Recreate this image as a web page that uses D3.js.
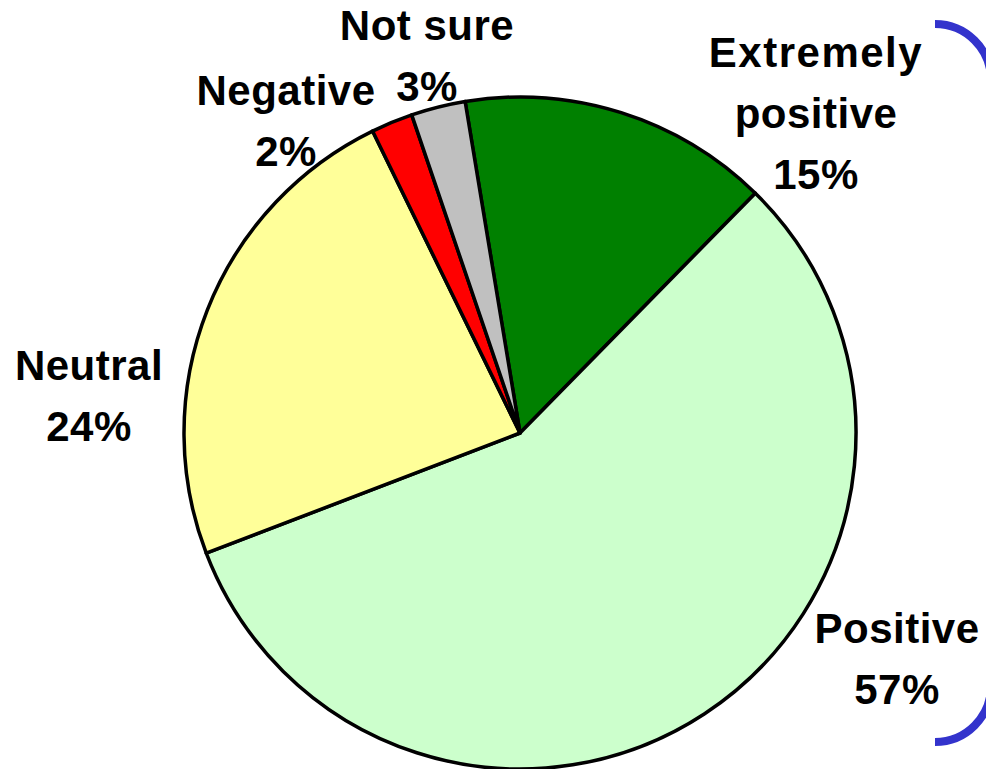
<!DOCTYPE html>
<html lang="en">
<head>
	<meta charset="UTF-8">
	<title>Opinion pie</title>
	<script src="https://cdn.jsdelivr.net/npm/d3@7/dist/d3.min.js"></script>
	<style>
		body { margin: 0; background: #fff; }
		text { font-family: "Liberation Sans", Arial, sans-serif; font-weight: bold; fill: #000; }
	</style>
</head>
<body>
<script type="text/javascript">
	// slice data, clockwise from the first slice
	var categories = ['Extremely positive', 'Positive', 'Neutral', 'Negative', 'Not sure'];
	var values = [14.9, 56.6, 23.5, 2.0, 2.6];
	var colors = ['#008000', '#ccffcc', '#ffff99', '#ff0000', '#c0c0c0'];
	// label lines as shown in the chart
	var labelLines = [['Extremely', 'positive'], ['Positive'], ['Neutral'], ['Negative'], ['Not sure']];

	var width = 986, height = 769;
	var cx = 520, cy = 433, radius = 336;

	// where each label block sits (centre x, first baseline y)
	var labelPos = [
		{x: 816, y: 67}, {x: 897, y: 643}, {x: 89, y: 380}, {x: 286, y: 105}, {x: 427, y: 40}
	];
	var lineHeight = 61;

	var svg = d3.select('body')
		.append('svg')
		.attr('width', width)
		.attr('height', height);

	var pie = d3.pie()
		.sort(null)
		.startAngle(-9.4 * Math.PI / 180)
		.endAngle(2 * Math.PI - 9.4 * Math.PI / 180)
		.value(function (d) { return d; });

	var arc = d3.arc()
		.innerRadius(0)
		.outerRadius(radius);

	var g = svg.append('g')
		.attr('transform', 'translate(' + cx + ',' + cy + ')');

	g.selectAll('.slice')
		.data(pie(values))
		.enter().append('path')
		.attr('class', 'slice')
		.attr('d', arc)
		.style('fill', function (d, i) { return colors[i]; })
		.style('stroke', '#000')
		.style('stroke-width', 3.5)
		.style('stroke-linejoin', 'round');

	var total = d3.sum(values);

	var labels = svg.selectAll('.label')
		.data(categories)
		.enter().append('text')
		.attr('class', 'label')
		.attr('text-anchor', 'middle')
		.style('font-size', '42px')
		.attr('transform', function (d, i) {
			return 'translate(' + labelPos[i].x + ',' + labelPos[i].y + ')';
		});

	labels.each(function (d, i) {
		var t = d3.select(this);
		var lines = labelLines[i].concat([Math.round(values[i] / total * 100) + '%']);
		lines.forEach(function (s, j) {
			t.append('tspan')
				.attr('x', 0)
				.attr('y', j * lineHeight)
				.style('letter-spacing', s === 'Extremely' ? '1.5px' : '0.5px')
				.text(s);
		});
	});

	// blue bracket at the right edge of the slide
	var br = 56, bx = 935, bTop = 24, bBottom = 742;
	var bracket = d3.path();
	bracket.moveTo(bx, bTop);
	bracket.arc(bx, bTop + br, br, -Math.PI / 2, 0);
	bracket.lineTo(bx + br, bBottom - br);
	bracket.arc(bx, bBottom - br, br, 0, Math.PI / 2);
	svg.append('path')
		.attr('d', bracket.toString())
		.style('fill', 'none')
		.style('stroke', '#3333cc')
		.style('stroke-width', 8);
</script>
</body>
</html>
